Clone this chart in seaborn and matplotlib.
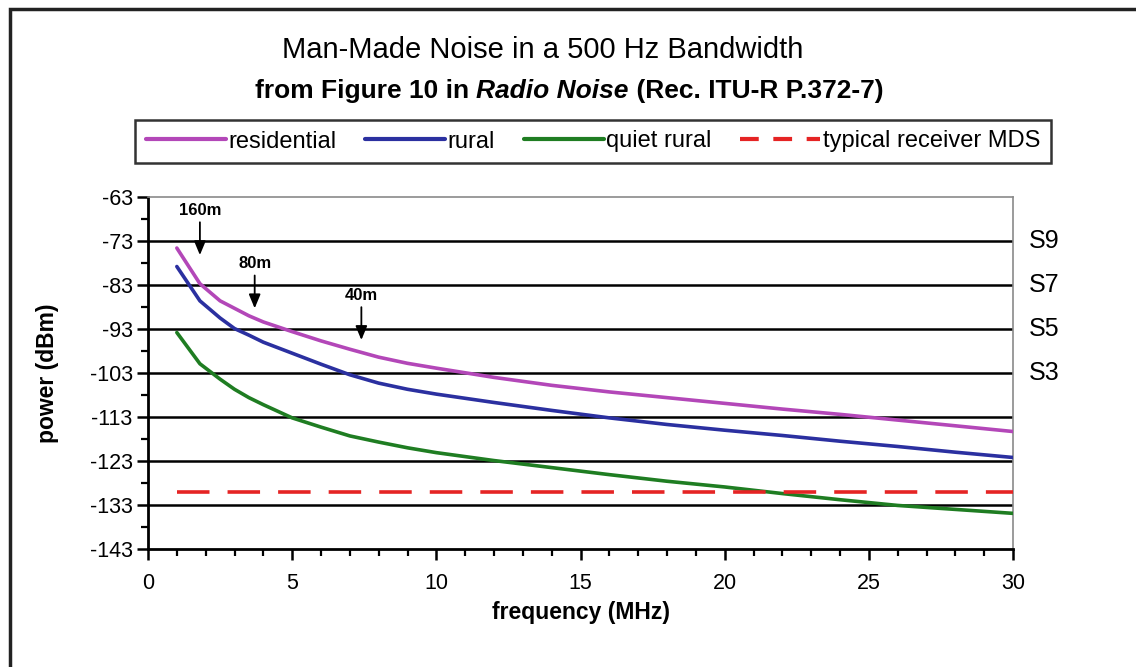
import numpy as np
import pandas as pd
import seaborn as sns
import matplotlib.pyplot as plt
from matplotlib.patches import Rectangle

# values (power in dBm, 500 Hz bandwidth)
freq_mhz = [1, 1.8, 2.5, 3, 3.5, 4, 5, 6, 7, 8, 9, 10, 12, 14, 16, 18, 20, 22, 24, 26, 28, 30]
residential = [-74.6, -82.7, -86.6, -88.3, -90.0, -91.4, -93.6, -95.7, -97.6, -99.4, -100.8, -101.9,
               -104.0, -105.8, -107.3, -108.6, -109.9, -111.2, -112.4, -113.7, -115.0, -116.3]
rural = [-78.8, -86.6, -90.5, -92.9, -94.4, -96.0, -98.5, -101.0, -103.4, -105.3, -106.7, -107.8,
         -109.7, -111.5, -113.2, -114.7, -116.0, -117.2, -118.5, -119.7, -121.0, -122.2]
quiet_rural = [-93.8, -100.9, -104.4, -106.7, -108.6, -110.2, -113.2, -115.3, -117.3, -118.7, -120.0, -121.1,
               -122.9, -124.5, -126.1, -127.6, -128.9, -130.4, -131.8, -133.1, -134.0, -134.9]
mds_freq = [1, 30]
mds_dbm = [-130, -130]

series_names = ["residential", "rural", "quiet rural"]
mds_name = "typical receiver MDS"

y_ticks = [-63, -73, -83, -93, -103, -113, -123, -133, -143]
x_ticks = [0, 5, 10, 15, 20, 25, 30]
s_labels = ["S9", "S7", "S5", "S3"]
s_levels = [-73, -83, -93, -103]
bands = ["160m", "80m", "40m"]
band_freq = [1.8, 3.7, 7.4]
band_level = [-76.2, -88.3, -95.5]

colors = {"residential": "#B347B8", "rural": "#2B30A0", "quiet rural": "#1F7D22"}
mds_color = "#E52424"

df = pd.DataFrame({
    "frequency": freq_mhz * 3,
    "power": residential + rural + quiet_rural,
    "curve": np.repeat(series_names, len(freq_mhz)),
})

sns.set_theme(style="white")
plt.rcParams["font.family"] = ["Liberation Sans", "DejaVu Sans"]
plt.rcParams["axes.unicode_minus"] = False
plt.rcParams["text.color"] = "black"
plt.rcParams["xtick.color"] = "black"
plt.rcParams["ytick.color"] = "black"
plt.rcParams["axes.labelcolor"] = "black"

fig = plt.figure(figsize=(11.36, 6.67), dpi=100)
ax = fig.add_axes([148 / 1136, 1 - 549 / 667, (1013 - 148) / 1136, (549 - 197) / 667])

# horizontal black grid lines (not at the top/bottom edges)
for yv in y_ticks[1:-1]:
    ax.axhline(yv, color="black", lw=1.8, zorder=1)

sns.lineplot(data=df, x="frequency", y="power", hue="curve", palette=colors,
             hue_order=series_names, lw=2.6, ax=ax, legend=False, zorder=3)
sns.lineplot(x=mds_freq, y=mds_dbm, color=mds_color, lw=2.6, ax=ax, zorder=3,
             dashes=False, linestyle=(0, (9, 5)))

ax.set_xlim(0, 30)
ax.set_ylim(-143, -63)
ax.set_xticks(x_ticks)
ax.set_yticks(y_ticks)
ax.set_xticks(np.arange(0, 31, 1), minor=True)
ax.set_yticks(np.arange(-143, -62, 5), minor=True)
ax.tick_params(axis="both", which="major", direction="out", length=8, width=1.8,
               color="black", labelsize=15.5, left=True, bottom=True)
ax.tick_params(axis="x", which="major", pad=9)
ax.tick_params(axis="y", which="major", pad=3)
ax.tick_params(axis="both", which="minor", direction="out", length=5, width=1.6,
               color="black", left=True, bottom=True)

for side in ["top", "right"]:
    ax.spines[side].set_color("#8a8a8a")
    ax.spines[side].set_linewidth(1.2)
for side in ["left", "bottom"]:
    ax.spines[side].set_color("black")
    ax.spines[side].set_linewidth(2)

ax.set_xlabel("frequency (MHz)", fontsize=16.5, fontweight="bold", labelpad=5)
ax.set_ylabel("power (dBm)", fontsize=16.5, fontweight="bold", labelpad=22)

# S-meter labels on the right
for lab, lev in zip(s_labels, s_levels):
    ax.text(30.55, lev, lab, fontsize=18, va="center", ha="left")

# band markers
for lab, f, lev in zip(bands, band_freq, band_level):
    ax.annotate(lab, xy=(f, lev), xytext=(0, 45), textcoords="offset pixels",
                ha="center", va="center", fontsize=12, fontweight="bold",
                arrowprops=dict(arrowstyle="-|>,head_length=0.6,head_width=0.25",
                                color="black", lw=1.3, shrinkA=1, shrinkB=0,
                                mutation_scale=14))

# legend
handles = [plt.Line2D([], [], color=colors[n], lw=3) for n in series_names]
handles.append(plt.Line2D([], [], color=mds_color, lw=3, linestyle=(0, (4.5, 3.5))))
leg = fig.legend(handles, series_names + [mds_name], loc="center",
                 bbox_to_anchor=(593 / 1136, 1 - 141.5 / 667), ncol=4, fontsize=17,
                 frameon=True, fancybox=False, handlelength=3.4, handletextpad=0.1,
                 columnspacing=1.2, borderpad=0.45)
leg.get_frame().set_edgecolor("black")
leg.get_frame().set_linewidth(1.8)

# titles
fig.text(543 / 1136, 1 - 50 / 667, "Man-Made Noise in a 500 Hz Bandwidth",
         ha="center", va="center", fontsize=21)
sub_y = 1 - 91 / 667
t1 = fig.text(0.5, sub_y, "from Figure 10 in ", ha="left", va="center",
              fontsize=19, fontweight="bold")
t2 = ax.annotate("Radio Noise", xy=(1, 0), xycoords=t1, va="bottom", ha="left",
                 fontsize=19, fontweight="bold", style="italic")
t3 = ax.annotate(" (Rec. ITU-R P.372-7)", xy=(1, 0), xycoords=t2, va="bottom", ha="left",
                 fontsize=19, fontweight="bold")
fig.canvas.draw()
r = fig.canvas.get_renderer()
x0 = t1.get_window_extent(r).x0
x1 = t3.get_window_extent(r).x1
width_frac = (x1 - x0) / fig.bbox.width
t1.set_x(569 / 1136 - width_frac / 2)

# outer frame of the picture
fig.patches.append(Rectangle((10 / 1136, -0.1), 1.2, 1.1 - 9 / 667, transform=fig.transFigure,
                             fill=False, edgecolor="#222222", lw=2.5))

fig.savefig("out.png", dpi=100)
